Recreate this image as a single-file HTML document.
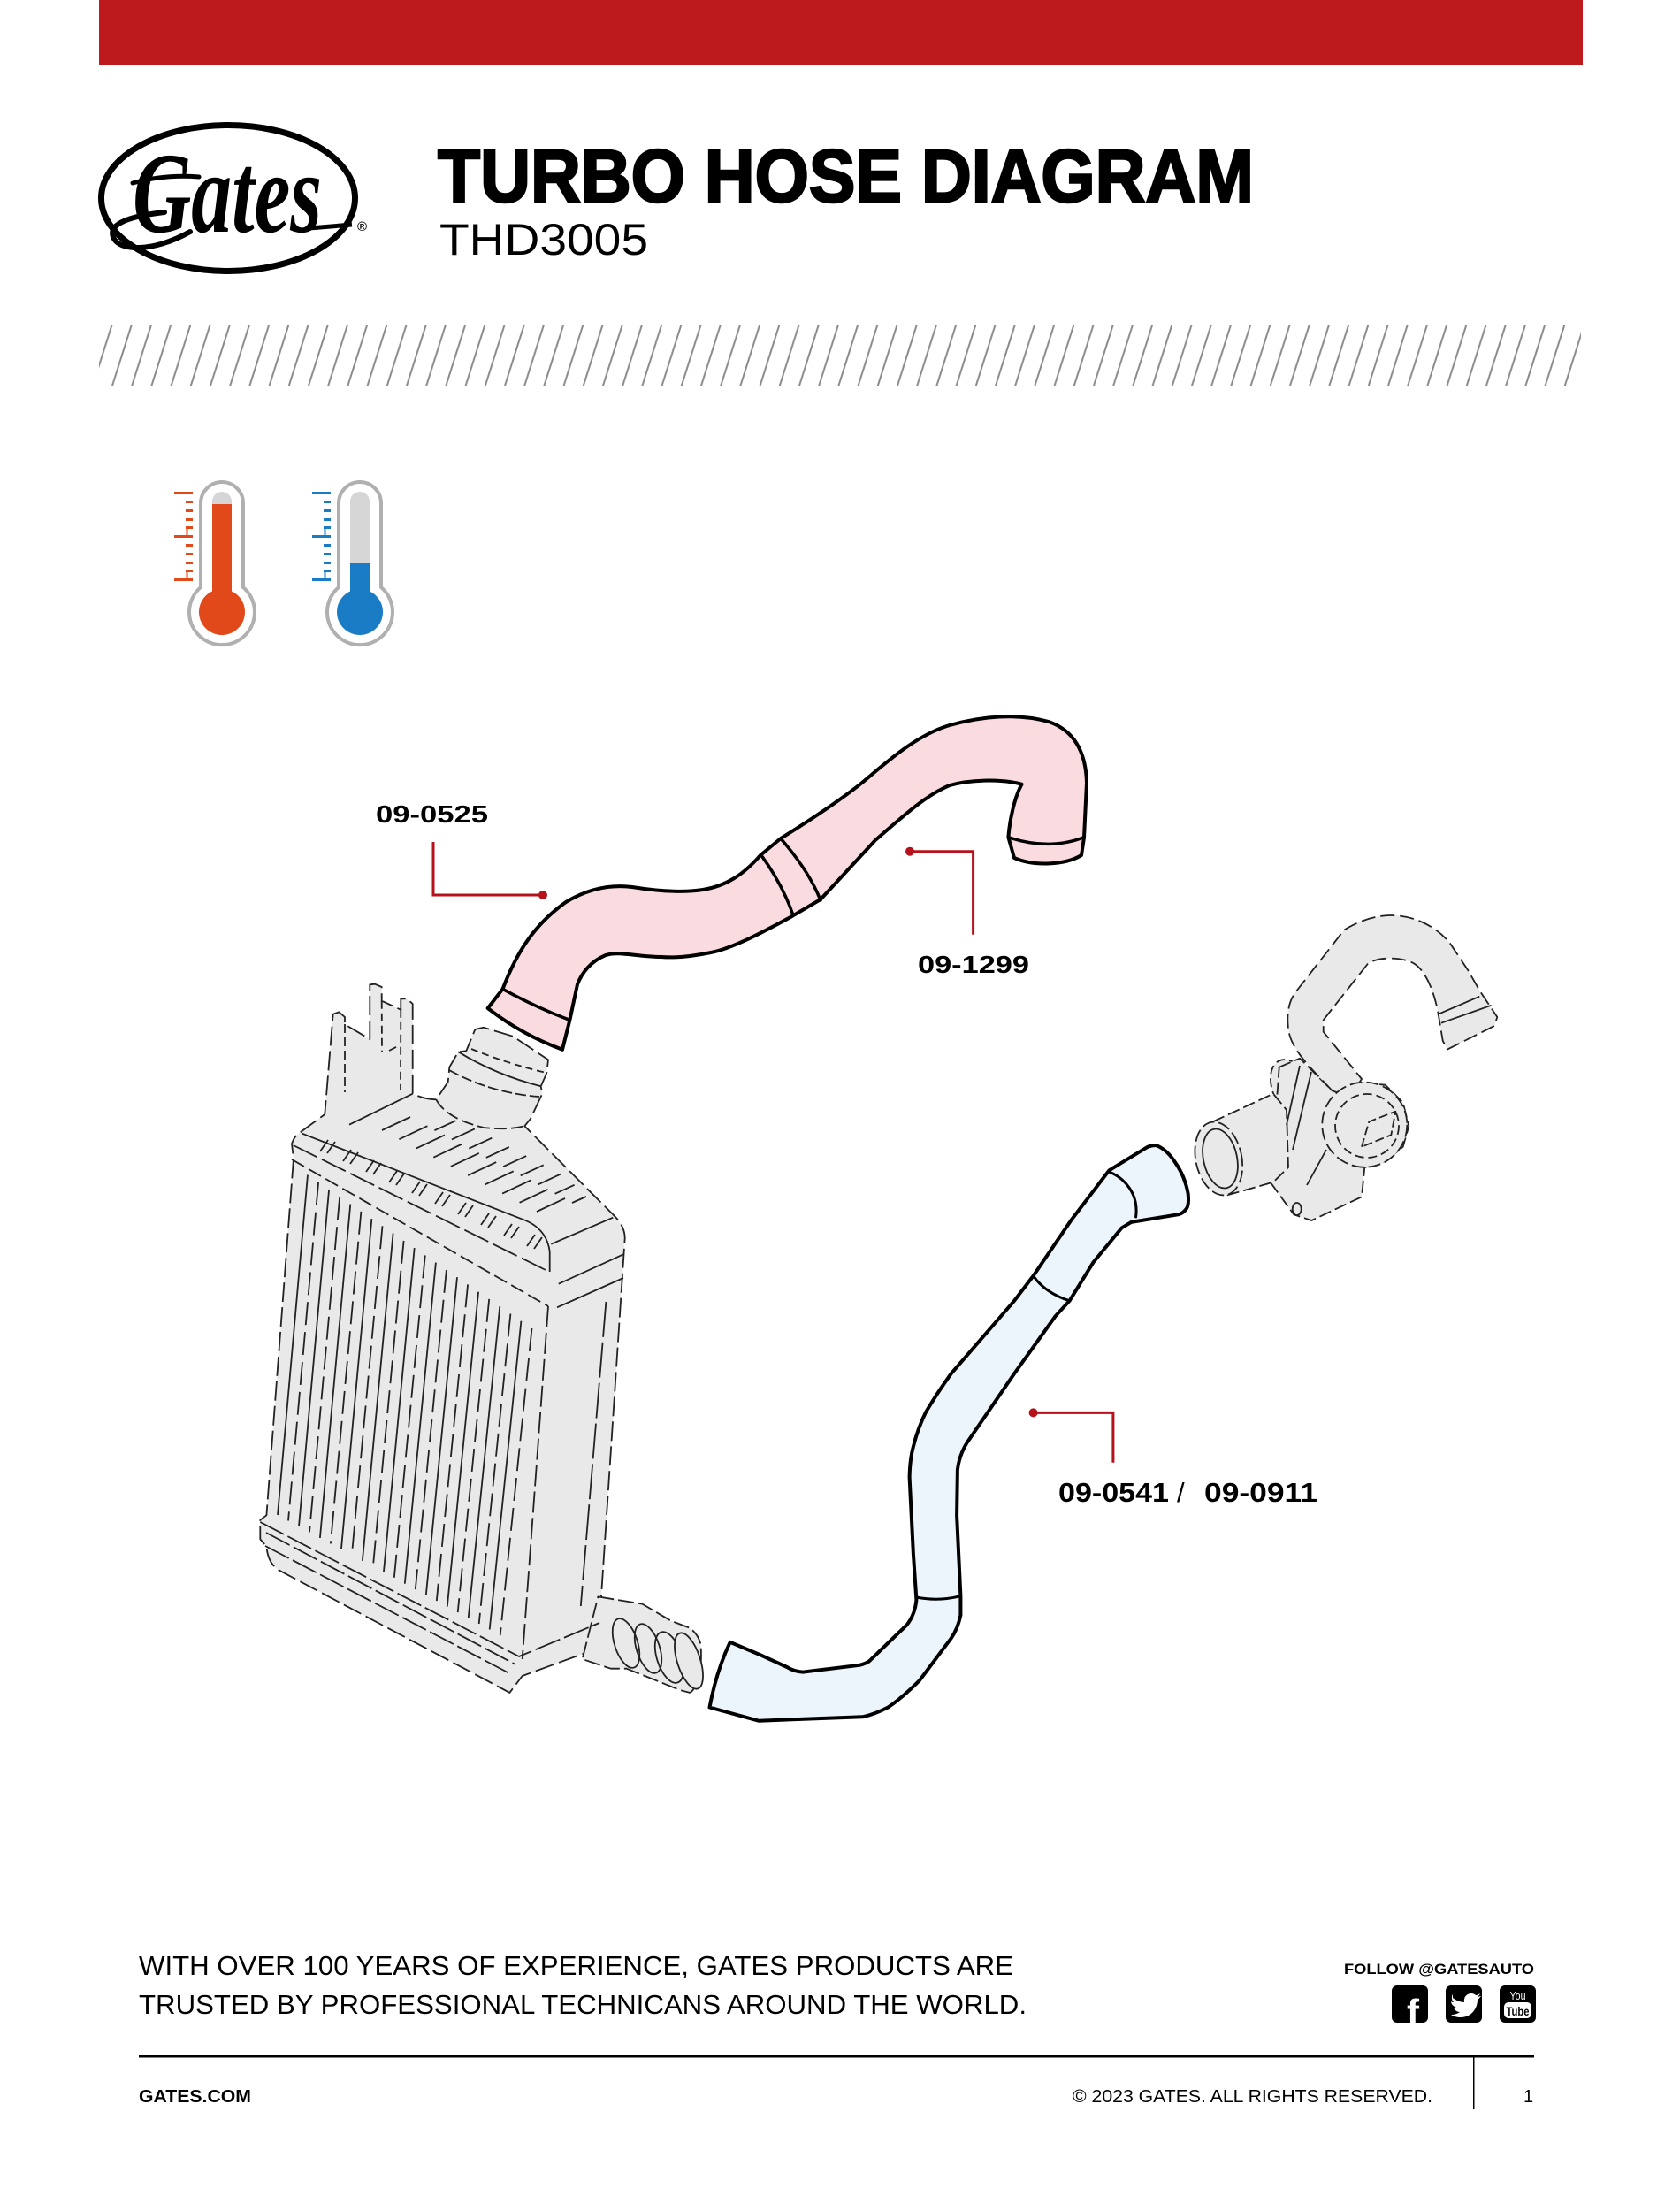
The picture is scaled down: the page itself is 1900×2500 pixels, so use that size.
<!DOCTYPE html>
<html><head><meta charset="utf-8"><style>html,body{margin:0;padding:0;background:#fff}svg{display:block}</style></head>
<body>
<svg width="1900" height="2500" viewBox="0 0 1900 2500" xmlns="http://www.w3.org/2000/svg">
<defs>
<pattern id="hatch" patternUnits="userSpaceOnUse" x="104.5" y="367" width="22.2" height="70">
<line x1="-22.2" y1="70" x2="0" y2="0" stroke="#8a8a8a" stroke-width="2"/>
<line x1="0" y1="70" x2="22.2" y2="0" stroke="#8a8a8a" stroke-width="2"/>
<line x1="22.2" y1="70" x2="44.4" y2="0" stroke="#8a8a8a" stroke-width="2"/>
</pattern>
</defs>
<rect width="1900" height="2500" fill="#fff"/>
<!-- red bar -->
<rect x="112" y="0" width="1678" height="74" fill="#bc1a1c"/>
<!-- logo -->
<ellipse cx="258" cy="224" rx="143.5" ry="82.5" fill="none" stroke="#000" stroke-width="7"/>
<text x="150" y="262" font-family="Liberation Serif, serif" font-style="italic" font-weight="bold" font-size="130" textLength="214" lengthAdjust="spacingAndGlyphs" fill="#000">Gates</text>
<path d="M186,240 C150,244 122,252 128,268 C134,284 172,286 215,262" fill="none" stroke="#000" stroke-width="6" stroke-linecap="round"/>
<path d="M150,207 C175,200 200,198 225,200" fill="none" stroke="#000" stroke-width="5" stroke-linecap="round"/>
<path d="M350,258 L398,254" fill="none" stroke="#000" stroke-width="5"/>
<text x="404" y="261" font-family="Liberation Sans, sans-serif" font-weight="bold" font-size="15" fill="#000">®</text>
<!-- title -->
<text x="495" y="228" font-family="Liberation Sans, sans-serif" font-weight="bold" font-size="84" textLength="923" lengthAdjust="spacingAndGlyphs" fill="#000" stroke="#000" stroke-width="2.5">TURBO HOSE DIAGRAM</text>
<text x="497" y="288" font-family="Liberation Sans, sans-serif" font-size="50" textLength="236" lengthAdjust="spacingAndGlyphs" fill="#000">THD3005</text>
<!-- hatch band -->
<rect x="112" y="367" width="1676" height="70" fill="url(#hatch)"/>

<!-- red thermometer -->
<g>
<path d="M227,664 L227,569 A24,24 0 0 1 275,569 L275,664 A37,37 0 1 1 227,664 Z" fill="#fff" stroke="#b0b0b0" stroke-width="4"/>
<path d="M240,680 L240,567 A11,11 0 0 1 262,567 L262,680 Z" fill="#d6d6d6"/>
<rect x="240" y="570" width="22" height="115" fill="#e2491a"/>
<circle cx="251" cy="692" r="26" fill="#e2491a"/>
<g fill="#e2491a">
<rect x="197" y="556" width="21" height="3"/><rect x="197" y="605" width="21" height="3"/><rect x="197" y="654" width="21" height="3"/>
<rect x="210" y="566" width="8" height="3"/><rect x="210" y="576" width="8" height="3"/><rect x="210" y="586" width="8" height="3"/><rect x="210" y="595" width="8" height="3"/>
<rect x="210" y="615" width="8" height="3"/><rect x="210" y="625" width="8" height="3"/><rect x="210" y="635" width="8" height="3"/><rect x="210" y="644" width="8" height="3"/>
<rect x="210.5" y="597" width="2" height="10"/><rect x="210.5" y="645" width="2" height="10"/>
</g>
</g>
<!-- blue thermometer -->
<g transform="translate(156,0)">
<path d="M227,664 L227,569 A24,24 0 0 1 275,569 L275,664 A37,37 0 1 1 227,664 Z" fill="#fff" stroke="#b0b0b0" stroke-width="4"/>
<path d="M240,680 L240,567 A11,11 0 0 1 262,567 L262,680 Z" fill="#d6d6d6"/>
<rect x="240" y="637" width="22" height="48" fill="#1a7cc4"/>
<circle cx="251" cy="692" r="26" fill="#1a7cc4"/>
<g fill="#1a7cc4">
<rect x="197" y="556" width="21" height="3"/><rect x="197" y="605" width="21" height="3"/><rect x="197" y="654" width="21" height="3"/>
<rect x="210" y="566" width="8" height="3"/><rect x="210" y="576" width="8" height="3"/><rect x="210" y="586" width="8" height="3"/><rect x="210" y="595" width="8" height="3"/>
<rect x="210" y="615" width="8" height="3"/><rect x="210" y="625" width="8" height="3"/><rect x="210" y="635" width="8" height="3"/><rect x="210" y="644" width="8" height="3"/>
<rect x="210.5" y="597" width="2" height="10"/><rect x="210.5" y="645" width="2" height="10"/>
</g>
</g>

<!-- INTERCOOLER -->
<g stroke="#222" stroke-width="1.8" fill="none" stroke-linejoin="round">
<path d="M376.7,1146.7 L383.3,1144.3 L390,1150 L390,1158.3 L418.3,1175 L418.3,1113.3 L424,1112.7 L431.7,1116 L431.7,1131.7 L453.3,1141.7 L453.3,1129.3 L460,1129.3 L466.7,1135 L466.7,1236.7 Q480,1243 493.3,1243.3 L506.7,1223.3 L508.3,1206.7 L518.3,1189.3 L527.3,1188.3 L537.3,1164 L546.7,1161.7 L580,1171.7 L620,1198.3 L618.3,1213.3 L611.7,1228.3 L613.3,1236.7 L600,1265 L593.3,1273.3 L693.3,1373.3 Q706.7,1386 706.7,1400 L680,1805 L676.4,1843.4 L672.9,1865 L590.7,1895 L576.4,1913.9 L315.7,1775.6 Q303,1768 301.4,1748.5 L294.3,1740.4 L294.3,1718.7 L301.4,1713.3 L332,1310 L330,1293.3 Q333,1284 340,1280 L367.3,1260 Z" fill="#e9e9e9" stroke-dasharray="22 6"/>
<!-- outlet -->
<path d="M676.4,1805.4 L726.4,1813.6 L758.6,1832.6 L780,1840.7 Q790,1848 792.5,1859.6 Q794,1880 790.7,1892.2 Q786,1912 780,1913.9 L769.3,1911.1 L708.6,1886.7 L690.7,1886.7 L658.6,1876 Z" fill="#e9e9e9" stroke-dasharray="18 5"/>
<ellipse cx="708" cy="1858" rx="13" ry="29" transform="rotate(-18 708 1858)"/>
<ellipse cx="733" cy="1864" rx="13" ry="29" transform="rotate(-18 733 1864)"/>
<ellipse cx="757" cy="1874" rx="14" ry="30" transform="rotate(-18 757 1874)"/>
<ellipse cx="779" cy="1878" rx="13" ry="33" transform="rotate(-18 779 1878)" fill="#e9e9e9"/>
<!-- bracket inner -->
<path d="M390,1158 L390,1235" stroke-dasharray="10 5"/>
<path d="M431.7,1131.7 L432,1190 M440,1188 L452,1182 M453.3,1141.7 L453,1232" stroke-dasharray="9 5"/>
<path d="M395,1271.7 L466.7,1236.7"/>
<!-- neck lines -->
<path d="M533,1186 Q575,1203 618,1213" stroke-dasharray="8 5"/>
<path d="M518.3,1189.3 Q560,1215 611.7,1228.3"/>
<path d="M508,1210 Q555,1236 610,1240" stroke-dasharray="12 4"/>
<path d="M493.3,1243.3 Q505,1265 547,1275 Q575,1278 593.3,1273.3" stroke-dasharray="14 5"/>
<!-- lid -->
<path d="M341.7,1281.7 L590,1378.3 Q618,1388 621.7,1415 L621.7,1438"/>
<path d="M331.7,1295 L621.7,1438.3" stroke-dasharray="30 6"/>
<path d="M330,1311 L620,1477" stroke-dasharray="16 6"/>
<path d="M620,1477 L590.7,1876" stroke-dasharray="24 6"/>
<!-- right face lines -->
<path d="M623.3,1406.7 L693.3,1376.7 M631.7,1451.7 L705,1418.3 M630,1478.3 L705,1445"/>
<path d="M685.4,1472 L656.8,1816" stroke-dasharray="40 6"/>
<!-- flange -->
<path d="M294.3,1721 L587,1873 L678,1835 M301,1733 L583,1882 M300,1748 L578,1893" stroke-dasharray="30 5"/>
<!-- top face strokes -->
<path d="M432,1278 l32,-15 M451.4,1288.2 l32,-15 M491.4,1278.2 l24,-11 M470.9,1298.4 l32,-15 M510.9,1288.4 l26,-12 M490.3,1308.7 l32,-15 M530.3,1298.7 l26,-12 M509.8,1318.9 l32,-15 M549.8,1308.9 l26,-12 M529.2,1329.1 l32,-15 M569.2,1319.1 l26,-12 M548.7,1339.3 l32,-15 M588.7,1329.3 l26,-12 M568.1,1349.6 l32,-15 M608.1,1339.6 l26,-12 M587.6,1359.8 l32,-15 M627.6,1349.8 l22,-10 M607,1370 l32,-15 M647,1360 l16,-7"/>
<!-- lid strokes -->
<path d="M362,1302 l9,-13 M370,1304 l9,-13 M388,1313 l9,-13 M396,1316 l9,-13 M414,1325 l9,-13 M422,1328 l9,-13 M440,1337 l9,-13 M448,1340 l9,-13 M466,1349 l9,-13 M474,1352 l9,-13 M492,1361 l9,-13 M500,1364 l9,-13 M518,1373 l9,-13 M526,1376 l9,-13 M544,1385 l9,-13 M552,1388 l9,-13 M570,1397 l9,-13 M578,1400 l9,-13 M596,1409 l9,-13 M604,1412 l9,-13"/>
<!-- fins -->
<path d="M348,1328.5 L314,1713 M372.1,1345 L338,1726 M396.3,1361.5 L361.9,1738.9 M420.4,1378.1 L385.9,1751.9 M444.6,1394.6 L409.9,1764.8 M468.7,1411.1 L433.9,1777.8 M492.9,1427.6 L457.8,1790.7 M517,1444.2 L481.8,1803.7 M541.1,1460.7 L505.8,1816.6 M565.3,1477.2 L529.7,1829.6 M589.4,1493.7 L553.7,1842.5"/>
<path d="M360.1,1336.8 L326,1719.5 M384.2,1353.3 L350,1732.4 M408.4,1369.8 L373.9,1745.4 M432.5,1386.3 L397.9,1758.3 M456.6,1402.9 L421.9,1771.3 M480.8,1419.4 L445.8,1784.2 M504.9,1435.9 L469.8,1797.2 M529.1,1452.4 L493.8,1810.1 M553.2,1468.9 L517.7,1823.1 M577.4,1485.5 L541.7,1836 M601.5,1502 L565.7,1849" stroke-dasharray="26 8"/>
</g>

<!-- RIGHT GRAY PART -->
<g stroke="#222" stroke-width="1.8" fill="#e9e9e9" stroke-linejoin="round">
<ellipse cx="1462" cy="1232" rx="22" ry="36" transform="rotate(-25 1462 1232)" stroke-dasharray="10 5"/>
<path d="M1446.7,1206.7 L1470,1196.7 L1506.7,1233.3 L1526.7,1223.3 L1566.7,1226.7 L1586.7,1246.7 L1593.3,1273.3 L1586.7,1296.7 L1566.7,1313.3 L1543.3,1320 L1540,1353.3 L1483.3,1380 L1463.3,1373.3 L1436.7,1336.7 L1440,1300 Z" stroke-dasharray="14 5"/>
<path d="M1506.7,1233.3 C1480,1205 1458,1185 1456.7,1160 C1455,1140 1460,1128 1466.7,1120 L1520,1051.7 C1535,1042 1555,1035 1573.3,1035 C1600,1035 1625,1048 1640,1066.7 L1660,1096.7 L1673.3,1120 L1693.3,1150 L1690,1160 L1636.7,1186.7 L1631.7,1176.7 L1626.7,1146.7 C1622,1120 1612,1098 1600,1090 C1590,1083 1560,1080 1546.7,1090 L1496.7,1153.3 L1496.7,1166.7 L1540,1220 L1526.7,1240 Z" stroke-dasharray="16 6"/>
<path d="M1626.7,1146.7 L1673.3,1126.7 M1630,1156.7 L1686.7,1136.7" fill="none"/>
<path d="M1371.7,1268.3 L1440,1236.7 L1455,1255 L1457,1320 L1440,1336.7 L1386.7,1351.7 Z" stroke-dasharray="14 5"/>
<ellipse cx="1378.3" cy="1310" rx="26" ry="42" transform="rotate(-12 1378.3 1310)" stroke-dasharray="14 5"/>
<ellipse cx="1380" cy="1310" rx="19" ry="34" transform="rotate(-12 1380 1310)" fill="none"/>
<path d="M1470,1205 L1455,1272 M1483,1212 L1462,1300 M1478,1340 L1500,1300" fill="none"/>
<circle cx="1543.3" cy="1271.7" r="48" stroke-dasharray="14 5"/>
<circle cx="1546" cy="1273" r="36" fill="none" stroke-dasharray="10 5"/>
<path d="M1540,1296.7 L1548.3,1268.3 L1578.3,1256.7 L1573.3,1283.3 Z" fill="none" stroke-dasharray="10 4"/>
<ellipse cx="1466.7" cy="1367" rx="5" ry="7" fill="none"/>
</g>

<!-- PINK HOSE -->
<g stroke="#000" stroke-width="4" stroke-linejoin="round" stroke-linecap="round">
<path d="M551.7,1140 L568.5,1118.3 C585,1075 605,1045 640,1020 C665,1005 690,1000 715,1003 C740,1007 770,1010 795,1006 C820,1002 840,990 860,967 L883,948 C920,925 950,905 975,885 C1010,855 1040,830 1074,820 C1110,810 1150,806 1186,816 C1215,826 1228,850 1229,885 L1226,947 L1223,967 C1205,978 1170,980 1147,970 L1140.4,946.7 C1142,925 1148,900 1155.6,886.7 C1130,880 1095,882 1074,888 C1050,898 1030,915 990,950 L928,1017 L894,1037 C870,1050 830,1072 804,1077 C780,1082 760,1083 748,1082 C720,1082 700,1075 685,1080 C668,1087 658,1100 653,1113 L644.4,1153.3 L636,1186.7 Q590,1170 551.7,1140 Z" fill="#fadce0"/>
<path d="M568.5,1118.3 Q608,1140 644.4,1153.3" fill="none" stroke-width="3.5"/>
<path d="M860.7,966.7 Q885,1000 897,1035 M883.1,948.3 Q915,985 928,1018" fill="none" stroke-width="3.5"/>
<path d="M1140.4,946.7 Q1186.5,962 1225.8,946.7" fill="none" stroke-width="3.5"/>
</g>

<!-- BLUE HOSE -->
<g stroke="#000" stroke-width="4" stroke-linejoin="round" stroke-linecap="round">
<path d="M802.5,1930.5 Q810,1890 825.7,1856.8 L861.4,1871.9 L890,1885 Q898,1890 907.9,1890.6 L972.1,1882.8 Q979,1881 982.9,1878.4 L1025.7,1837.2 Q1035,1825 1036.4,1809 L1032.9,1757 L1028.6,1670.3 Q1029,1650 1032.9,1635.6 Q1038,1615 1047.1,1596.6 Q1060,1575 1075.7,1553.2 L1147.1,1470.8 L1168.6,1442.6 L1211.4,1379.7 L1254.3,1323.4 L1297.1,1297.3 Q1302,1295 1307.9,1295.2 Q1320,1300 1329.3,1314.7 Q1340,1330 1343.6,1349.4 Q1345,1362 1341.8,1366.7 Q1338,1372 1332.9,1373.2 L1279.3,1381.9 L1268.6,1388.4 L1236.4,1427.4 L1209.6,1470.8 L1193.6,1488.2 L1147.1,1553.2 L1093.6,1631.3 Q1085,1645 1082.9,1661.6 L1082.1,1713.7 L1086.4,1804.7 L1086.4,1826.4 Q1083,1842 1075.7,1852.4 L1040,1900.1 Q1020,1920 1004.3,1930.5 Q990,1938 975.7,1941.3 L857.9,1945.7 Z" fill="#edf5fc"/>
<path d="M1168.6,1442.6 Q1182,1462 1209.6,1470.8" fill="none" stroke-width="3"/>
<path d="M1036.4,1806 Q1061,1811 1086.4,1804.7" fill="none" stroke-width="3"/>
<path d="M1254.3,1325 C1272,1332 1288,1350 1284.6,1376" fill="none" stroke-width="3"/>
</g>

<!-- leaders -->
<g stroke="#b5121b" stroke-width="3" fill="none">
<path d="M490,952 V1012 H614"/>
<path d="M1029,962.7 H1100.6 V1056.7"/>
<path d="M1168.6,1597.4 H1258.9 V1653.8"/>
</g>
<g fill="#b5121b">
<circle cx="614" cy="1012" r="5"/>
<circle cx="1029" cy="962.7" r="5"/>
<circle cx="1168.6" cy="1597.4" r="5"/>
</g>
<g font-family="Liberation Sans, sans-serif" font-weight="bold" fill="#000">
<text x="425" y="930" font-size="28" textLength="127" lengthAdjust="spacingAndGlyphs">09-0525</text>
<text x="1038" y="1100" font-size="28" textLength="126" lengthAdjust="spacingAndGlyphs">09-1299</text>
<text x="1197" y="1698" font-size="31" textLength="125" lengthAdjust="spacingAndGlyphs">09-0541</text>
<text x="1331" y="1698" font-size="31" font-weight="normal">/</text>
<text x="1362" y="1698" font-size="31" textLength="128" lengthAdjust="spacingAndGlyphs">09-0911</text>
</g>

<!-- footer -->
<g font-family="Liberation Sans, sans-serif" fill="#000">
<text x="157" y="2233" font-size="31" textLength="989" lengthAdjust="spacingAndGlyphs">WITH OVER 100 YEARS OF EXPERIENCE, GATES PRODUCTS ARE</text>
<text x="157" y="2277" font-size="31" textLength="1004" lengthAdjust="spacingAndGlyphs">TRUSTED BY PROFESSIONAL TECHNICANS AROUND THE WORLD.</text>
<text x="1520" y="2232" font-size="17" font-weight="bold" textLength="215" lengthAdjust="spacingAndGlyphs">FOLLOW @GATESAUTO</text>
<text x="157" y="2377" font-size="20" font-weight="bold" textLength="127" lengthAdjust="spacingAndGlyphs">GATES.COM</text>
<text x="1213" y="2377" font-size="20" textLength="407" lengthAdjust="spacingAndGlyphs">© 2023 GATES. ALL RIGHTS RESERVED.</text>
<text x="1723" y="2377" font-size="20">1</text>
</g>
<rect x="157" y="2324" width="1578" height="2.5" fill="#000"/>
<rect x="1666" y="2325" width="1.5" height="60" fill="#000"/>
<!-- social icons -->
<rect x="1574" y="2245" width="41" height="42" rx="6" fill="#000"/>
<text x="1591" y="2290" font-family="Liberation Sans, sans-serif" font-weight="bold" font-size="42" fill="#fff">f</text>
<rect x="1635" y="2245" width="41" height="42" rx="6" fill="#000"/>
<path d="M1643,2259 c4,3 9,5 13,5 c-1,-6 3,-10 8,-10 c2,0 4,1 5,2 c2,0 3,-1 5,-2 c-1,2 -2,3 -3,4 c1,0 3,-1 4,-1 c-1,1 -2,3 -4,4 c0,10 -7,20 -19,20 c-4,0 -8,-1 -11,-3 c4,0 7,-1 10,-3 c-3,0 -6,-2 -7,-5 c1,0 2,0 3,0 c-3,-1 -6,-4 -6,-7 c1,1 2,1 3,1 c-2,-2 -3,-6 -1,-9 z" fill="#fff"/>
<rect x="1696" y="2245" width="41" height="42" rx="6" fill="#000"/>
<text x="1716.5" y="2261" text-anchor="middle" font-family="Liberation Sans, sans-serif" font-size="13" fill="#fff" textLength="18" lengthAdjust="spacingAndGlyphs">You</text>
<rect x="1701" y="2264" width="31" height="18" rx="5" fill="#fff"/>
<text x="1716.5" y="2279" text-anchor="middle" font-family="Liberation Sans, sans-serif" font-weight="bold" font-size="14" fill="#000" textLength="26" lengthAdjust="spacingAndGlyphs">Tube</text>
</svg>
</body></html>
